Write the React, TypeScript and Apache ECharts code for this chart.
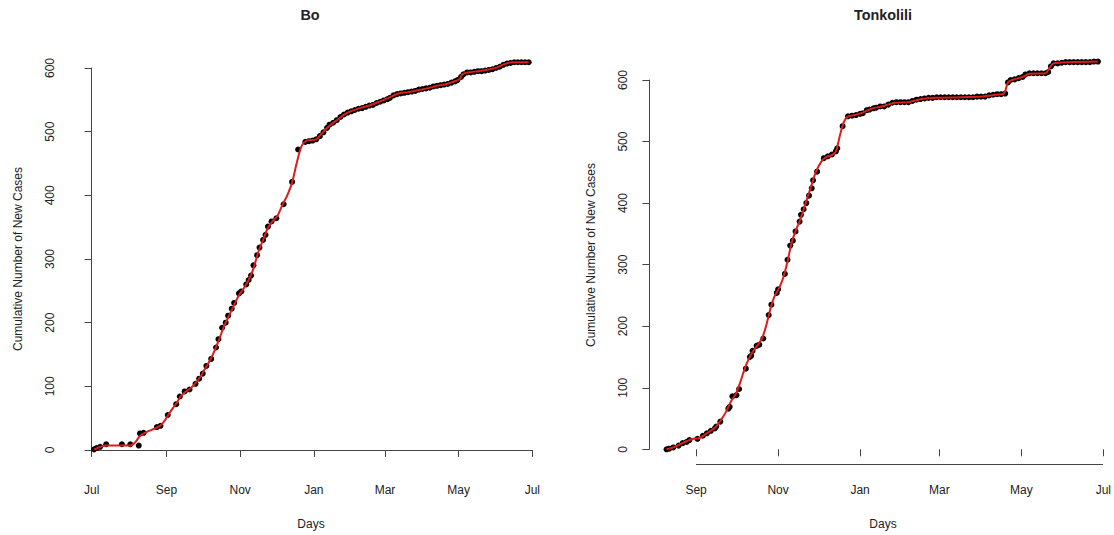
import { useEffect, useRef } from "react";
import * as echarts from "echarts";

// Day numbers count from 1 July 2014 (day 0).
const boTickDays = [0, 62, 123, 184, 243, 304, 365];
const boTickLabels = ["Jul", "Sep", "Nov", "Jan", "Mar", "May", "Jul"];
const tonkTickDays = [62, 123, 184, 243, 304, 365];
const tonkTickLabels = ["Sep", "Nov", "Jan", "Mar", "May", "Jul"];

const caseAxisMax = 600;
const caseAxisStep = 100;

// Bo: observed cumulative counts [day, cases]
const boObserved: [number, number][] = [
  [2, 1], [4, 3], [7, 5], [12, 9], [25, 9], [32, 9], [39, 7], [40, 26], [43, 27],
  [54, 36], [57, 38], [63, 55], [70, 72], [73, 84], [77, 92], [81, 95], [86, 104],
  [89, 112], [92, 120], [95, 132], [99, 143], [103, 161], [105, 174], [108, 192],
  [111, 200], [113, 211], [116, 222], [118, 231], [122, 246], [124, 249], [128, 260],
  [130, 267], [132, 274], [134, 290], [137, 306], [139, 318], [142, 330], [144, 338],
  [146, 351], [149, 359], [153, 364], [159, 386], [166, 421], [171, 472], [177, 484],
  [180, 485], [183, 486], [186, 488], [189, 493], [192, 499], [195, 506], [197, 511],
  [200, 514], [203, 518], [206, 523], [209, 527], [212, 530], [215, 532], [218, 534],
  [221, 536], [224, 537], [227, 539], [230, 541], [233, 542], [236, 545], [239, 547],
  [242, 549], [245, 551], [247, 553], [250, 557], [253, 559], [256, 560], [259, 561],
  [262, 562], [265, 563], [268, 564], [271, 566], [274, 567], [277, 568], [280, 569],
  [283, 571], [286, 572], [289, 573], [292, 574], [295, 575], [298, 577], [301, 579],
  [303, 581], [306, 586], [308, 590], [311, 593], [314, 593], [317, 594], [320, 595],
  [323, 595], [326, 596], [329, 597], [332, 598], [335, 600], [338, 602], [341, 605],
  [344, 607], [347, 608], [350, 609], [353, 609], [356, 609], [359, 609], [362, 609],
];

// Bo: smoothed fit [day, cases]
const boFitted: [number, number][] = [
  [2, 1], [6, 4], [12, 7], [20, 7], [32, 7], [36, 12], [40, 22], [44, 27], [50, 32],
  [56, 37], [60, 45], [64, 57], [70, 73], [74, 85], [78, 92], [82, 97], [86, 105],
  [90, 115], [94, 128], [98, 141], [102, 157], [106, 176], [110, 196], [114, 212],
  [118, 228], [122, 243], [126, 254], [130, 267], [134, 285], [138, 311], [142, 330],
  [146, 349], [150, 360], [154, 368], [158, 385], [162, 400], [166, 420], [170, 452],
  [174, 478], [178, 486], [186, 488], [192, 500], [198, 511], [204, 519], [210, 528],
  [216, 533], [222, 537], [230, 541], [238, 547], [246, 553], [254, 560], [262, 562],
  [270, 565], [278, 568], [286, 572], [294, 575], [302, 580], [305, 583], [307, 590],
  [312, 593], [320, 595], [330, 598], [336, 601], [342, 606], [348, 609], [362, 609],
];

// Tonkolili: observed cumulative counts [day, cases]
const tonkObserved: [number, number][] = [
  [40, 0], [42, 1], [45, 3], [49, 6], [52, 10], [55, 12], [57, 15], [63, 17], [67, 22],
  [70, 26], [73, 30], [76, 34], [77, 37], [80, 45], [86, 66], [87, 69], [89, 86],
  [92, 88], [94, 98], [99, 131], [102, 150], [103, 152], [104, 160], [107, 168],
  [109, 170], [112, 180], [116, 218], [118, 235], [122, 254], [123, 260], [128, 285],
  [130, 308], [132, 331], [134, 339], [136, 354], [139, 370], [140, 381], [142, 390],
  [144, 400], [146, 412], [148, 424], [149, 437], [152, 451], [157, 473], [160, 476],
  [163, 479], [166, 484], [167, 489], [171, 525], [175, 541], [178, 542], [181, 543],
  [184, 545], [186, 546], [189, 551], [191, 552], [194, 554], [196, 555], [199, 557],
  [202, 557], [205, 560], [208, 563], [211, 564], [214, 564], [217, 564], [220, 564],
  [223, 566], [226, 568], [229, 569], [232, 570], [235, 571], [238, 571], [241, 572],
  [244, 572], [247, 572], [250, 572], [253, 572], [256, 572], [259, 572], [262, 572],
  [265, 572], [268, 572], [271, 573], [274, 573], [277, 573], [280, 575], [283, 576],
  [286, 577], [289, 577], [292, 578], [294, 596], [296, 600], [299, 601], [302, 603],
  [305, 605], [307, 609], [310, 611], [313, 611], [316, 611], [319, 611], [322, 611],
  [324, 613], [326, 622], [328, 627], [331, 627], [334, 628], [337, 629], [340, 629],
  [343, 629], [346, 629], [349, 629], [352, 629], [355, 629], [358, 630], [361, 630],
];

// Tonkolili: smoothed fit [day, cases]
const tonkFitted: [number, number][] = [
  [40, 0], [45, 3], [50, 8], [55, 13], [60, 17], [64, 18], [68, 23], [72, 29], [76, 35],
  [80, 46], [84, 60], [88, 78], [92, 92], [95, 110], [98, 130], [101, 146], [104, 158],
  [108, 170], [111, 180], [114, 200], [117, 226], [120, 247], [124, 263], [127, 280],
  [130, 305], [133, 335], [136, 355], [139, 370], [142, 390], [145, 410], [148, 430],
  [151, 450], [155, 467], [159, 475], [163, 478], [166, 484], [169, 510], [172, 532],
  [175, 541], [180, 543], [186, 547], [192, 553], [200, 557], [210, 563], [220, 564],
  [230, 569], [240, 571], [260, 572], [275, 573], [285, 576], [291, 578], [294, 596],
  [297, 600], [305, 605], [310, 610], [322, 611], [325, 620], [328, 627], [340, 629],
  [361, 630],
];

const FONT = "'Liberation Sans', Arial, sans-serif";
const INK = "#222";
const AXIS = "#444";
const FIT_RED = "#dd1c1c";

// Left end of the Tonkolili plotting region (day number), so early points sit inside it.
const tonkRegionStart = 27.2;

function monthAxis(
  gridIndex: number,
  min: number,
  ticks: number[],
  labels: string[],
  offset: number,
  showLine: boolean
) {
  return {
    type: "value" as const,
    gridIndex,
    min,
    max: ticks[ticks.length - 1],
    position: "bottom" as const,
    offset,
    splitLine: { show: false },
    axisLine: { show: showLine, lineStyle: { color: AXIS, width: 1 } },
    axisTick: { show: true, length: 7, customValues: ticks, lineStyle: { color: AXIS } },
    axisLabel: {
      show: true,
      customValues: ticks,
      margin: 20,
      color: INK,
      fontSize: 12,
      fontFamily: FONT,
      formatter: (v: number) => labels[ticks.indexOf(Math.round(v))] ?? "",
    },
  };
}

function caseAxis(gridIndex: number, offset: number) {
  return {
    type: "value" as const,
    gridIndex,
    min: 0,
    max: caseAxisMax,
    interval: caseAxisStep,
    position: "left" as const,
    offset,
    splitLine: { show: false },
    axisLine: { show: true, lineStyle: { color: AXIS, width: 1 } },
    axisTick: { show: true, length: 7, lineStyle: { color: AXIS } },
    axisLabel: {
      rotate: 90,
      margin: 20,
      color: INK,
      fontSize: 12,
      fontFamily: FONT,
    },
  };
}

function textEl(text: string, x: number, y: number, opts: any = {}) {
  return {
    type: "text",
    x,
    y,
    rotation: opts.rotation ?? 0,
    style: {
      text,
      fill: INK,
      font: `${opts.bold ? "bold " : ""}${opts.size ?? 12}px ${FONT}`,
      align: "center",
      verticalAlign: "middle",
    },
  };
}

function pointSeries(idx: number, data: [number, number][]) {
  return {
    type: "scatter",
    xAxisIndex: idx,
    yAxisIndex: idx,
    data,
    symbol: "circle",
    symbolSize: 6,
    itemStyle: { color: "#000", opacity: 1 },
    clip: false,
    z: 2,
  };
}

function fitSeries(idx: number, data: [number, number][]) {
  return {
    type: "line",
    xAxisIndex: idx,
    yAxisIndex: idx,
    data,
    showSymbol: false,
    smooth: 0.3,
    lineStyle: { color: FIT_RED, width: 2 },
    clip: false,
    z: 3,
  };
}

export default function App() {
  const ref = useRef<HTMLDivElement>(null);

  useEffect(() => {
    if (!ref.current) return;
    const chart = echarts.init(ref.current, null, { renderer: "svg" });
    const tonkGrid = { left: 649.35, top: 80, width: 455.65, height: 369.3 };
    const tonkAxisOffset = 14.7;
    const labels = [
      textEl("Bo", 310, 15, { bold: true, size: 14.4 }),
      textEl("Tonkolili", 883, 15, { bold: true, size: 14.4 }),
      textEl("Days", 311, 524),
      textEl("Days", 883, 524),
      textEl("Cumulative Number of New Cases", 18, 259, { rotation: Math.PI / 2 }),
      textEl("Cumulative Number of New Cases", 591, 255, { rotation: Math.PI / 2 }),
    ];
    chart.setOption({
      animation: false,
      backgroundColor: "#ffffff",
      grid: [{ left: 91.7, top: 68, width: 440.6, height: 382 }, tonkGrid],
      xAxis: [
        monthAxis(0, boTickDays[0], boTickDays, boTickLabels, 14, true),
        monthAxis(1, tonkRegionStart, tonkTickDays, tonkTickLabels, tonkAxisOffset, false),
      ],
      yAxis: [caseAxis(0, 15.7), caseAxis(1, 0)],
      graphic: labels,
      series: [
        pointSeries(0, boObserved),
        fitSeries(0, boFitted),
        pointSeries(1, tonkObserved),
        fitSeries(1, tonkFitted),
      ],
    });

    // Tonkolili's day axis line runs only from its first to its last tick.
    const x0 = chart.convertToPixel({ xAxisIndex: 1 }, tonkTickDays[0]) as number;
    const x1 = chart.convertToPixel(
      { xAxisIndex: 1 },
      tonkTickDays[tonkTickDays.length - 1]
    ) as number;
    const yLine = Math.round(tonkGrid.top + tonkGrid.height + tonkAxisOffset) + 0.5;
    chart.setOption({
      graphic: [
        ...labels,
        {
          type: "line",
          shape: { x1: Math.round(x0), y1: yLine, x2: Math.round(x1), y2: yLine },
          style: { stroke: AXIS, lineWidth: 1 },
        },
      ],
    });
    return () => chart.dispose();
  }, []);

  return (
    <div
      ref={ref}
      style={{ position: "fixed", left: 0, top: 0, width: 1114, height: 535, background: "#fff" }}
    />
  );
}
